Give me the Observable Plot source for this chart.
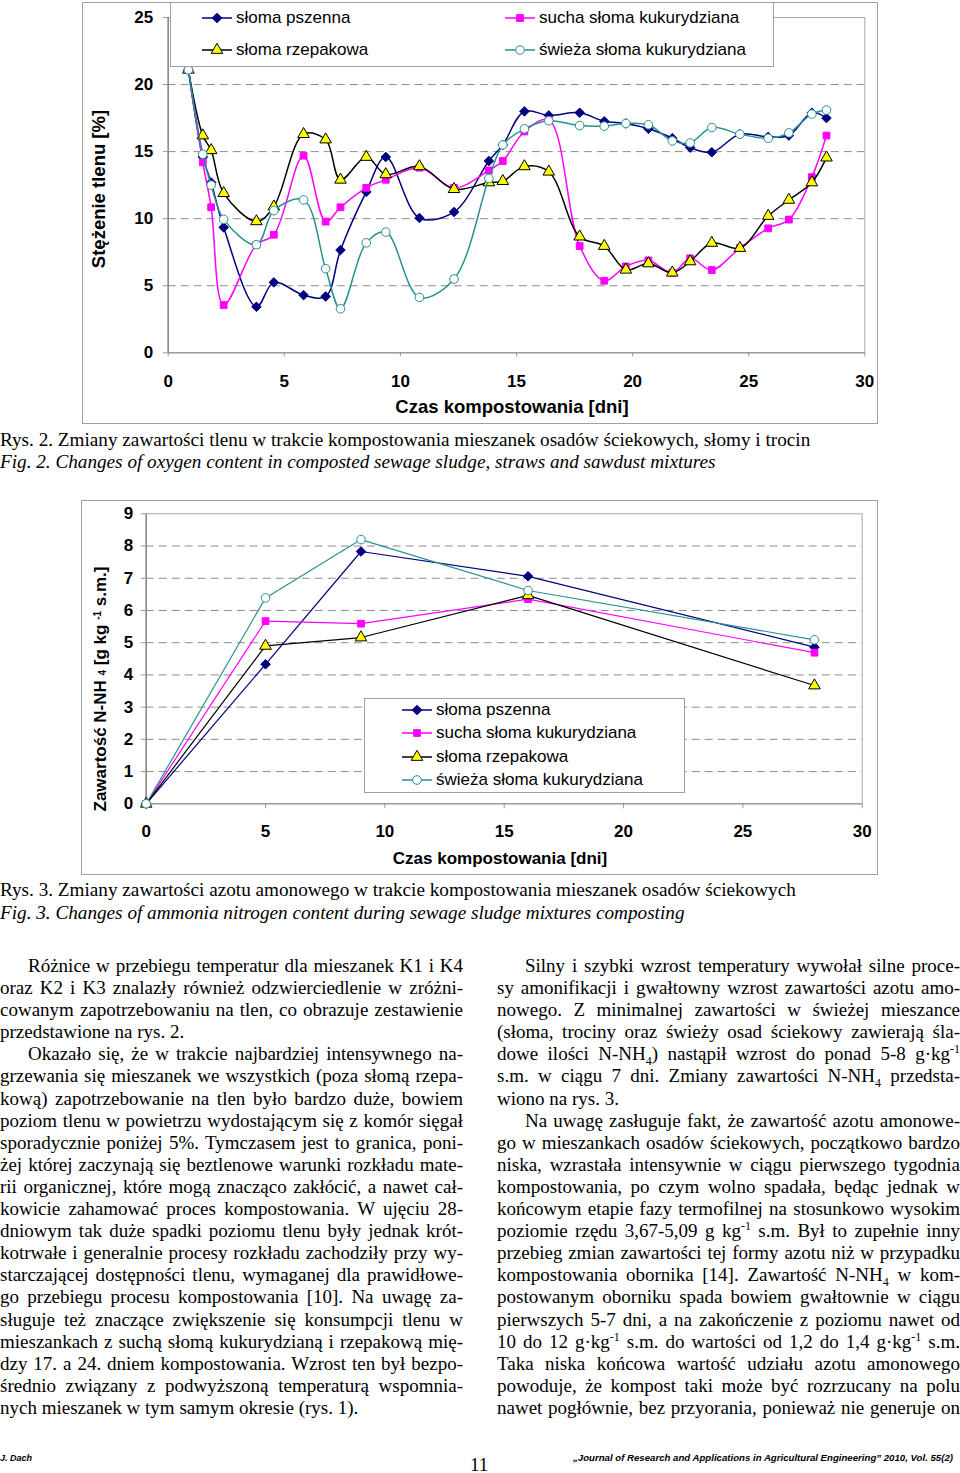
<!DOCTYPE html>
<html><head><meta charset="utf-8">
<script src="https://cdn.jsdelivr.net/npm/d3@7"></script>
<script src="https://cdn.jsdelivr.net/npm/@observablehq/plot@0.6"></script>
<style>
html,body{margin:0;padding:0;background:#fff;}
body{width:960px;height:1473px;position:relative;overflow:hidden;font-family:"Liberation Sans",Arial,sans-serif;color:#000;}
.abs{position:absolute;}
.frame{position:absolute;border:1px solid #a0a0a0;box-sizing:border-box;}
.ylab{position:absolute;transform:translate(-50%,-50%) rotate(-90deg);white-space:nowrap;font:bold 17px "Liberation Sans",Arial,sans-serif;}
.xlab{position:absolute;transform:translate(-50%,-50%);white-space:nowrap;font:bold 17px "Liberation Sans",Arial,sans-serif;}
.legend{position:absolute;border:1px solid #a0a0a0;background:#fff;box-sizing:border-box;}
.li{position:absolute;white-space:nowrap;font:17px "Liberation Sans",Arial,sans-serif;transform:translateY(-50%);display:flex;align-items:center;}
.li svg{margin-right:4px;}
.cap{position:absolute;left:0;white-space:nowrap;font:19.2px "Liberation Serif","Times New Roman",serif;transform:translateY(-50%);}
.col{position:absolute;width:463px;font:19px "Liberation Serif","Times New Roman",serif;}
.ln{height:22.1px;line-height:22.1px;white-space:nowrap;text-align:left;}
.ln.j{text-align:justify;text-align-last:justify;}
.ln.ind{padding-left:28px;}
sub,sup{font-size:12px;line-height:0;}
.foot{position:absolute;white-space:nowrap;font:bold italic 9px "Liberation Sans",Arial,sans-serif;transform-origin:left center;}
svg.plot{position:absolute;}
</style>
</head><body>
<div id="root"></div>
<script>
// ---------- DATA: Rys. 2 (oxygen, %) ----------
const dni1 = [0.87,1.49,1.85,2.39,3.8,4.55,5.83,6.78,7.42,8.53,9.37,10.82,12.31,13.81,14.41,15.34,16.39,17.72,18.78,19.71,20.68,21.71,22.48,23.41,24.62,25.84,26.73,27.72,28.35];
const tlenPszenna = [21.1,14.6,12.7,9.35,3.43,5.25,4.3,4.2,7.66,12.0,14.6,10.05,10.5,14.3,15.5,18.0,17.7,17.9,17.26,17.1,16.7,16.0,15.3,14.95,16.3,16.1,16.2,17.9,17.5];
const tlenSucha = [21.1,14.2,10.85,3.56,8.06,8.8,14.7,9.78,10.85,12.3,12.9,13.8,12.3,13.6,14.3,16.5,17.35,7.96,5.37,6.44,6.89,5.97,7.04,6.17,7.81,9.28,9.93,13.1,16.2];
const tlenRzepak = [21.1,16.2,15.1,11.9,9.8,10.9,16.3,15.9,12.9,14.6,13.3,13.9,12.2,12.7,12.8,13.9,13.5,8.66,7.96,6.19,6.66,5.97,6.81,8.19,7.81,10.2,11.4,12.7,14.55];
const tlenSwieza = [21.1,14.8,12.5,9.95,8.06,10.6,11.4,6.27,3.28,8.2,9.0,4.13,5.5,13.0,15.5,16.7,17.3,16.94,16.9,17.1,17.0,15.8,15.65,16.8,16.3,16.0,16.4,17.8,18.1];
const ticksX = [0,5,10,15,20,25,30];
const ticksY1 = [0,5,10,15,20,25];

// ---------- DATA: Rys. 3 (N-NH4, g/kg s.m.) ----------
const dni2 = [0,5,9,16,28];
const nPszenna = [0,4.33,7.83,7.06,4.86];
const nSucha = [0,5.67,5.59,6.35,4.69];
const nRzepak = [0,4.9,5.16,6.47,3.67];
const nSwieza = [0,6.39,8.2,6.62,5.09];
const ticksY2 = [0,1,2,3,4,5,6,7,8,9];

const names = ["słoma pszenna","sucha słoma kukurydziana","słoma rzepakowa","świeża słoma kukurydziana"];

// ---------- styles ----------
const sty = [
  {line:"#000080", symbol:"diamond2", fill:"#000080", stroke:"#000080", r:4.3},
  {line:"#ff00ff", symbol:"square", fill:"#ff00ff", stroke:"#ff00ff", r:3.8},
  {line:"#000000", symbol:"triangle", fill:"#ffff00", stroke:"#000000", r:4.3},
  {line:"#2a9090", symbol:"circle", fill:"#ffffff", stroke:"#2a9090", r:4.3}
];

function seriesMarks(xs, ys, s, curve, sw){
  const data = xs.map((d,i)=>({d, v: ys[i]}));
  return [
    Plot.line(data, {x:"d", y:"v", stroke:s.line, strokeWidth:sw, curve}),
    Plot.dot(data, {x:"d", y:"v", symbol:s.symbol, r:s.r, fill:s.fill, stroke:s.stroke, strokeWidth:1})
  ];
}

const root = document.getElementById("root");
const baseStyle = {fontFamily:"'Liberation Sans', Arial, sans-serif", fontSize:"17px", fontWeight:"bold", color:"#000", background:"transparent", overflow:"visible"};

function addDiv(cls, css, html){
  const d = document.createElement("div"); d.className = cls;
  Object.assign(d.style, css); if (html!=null) d.innerHTML = html;
  root.appendChild(d); return d;
}
// ---------- frames ----------
addDiv("frame", {left:"82px", top:"2px", width:"796px", height:"422px"});
addDiv("frame", {left:"81px", top:"500px", width:"797px", height:"375px"});

// ---------- Chart 1 ----------
const s1 = [tlenPszenna, tlenSucha, tlenRzepak, tlenSwieza];
const chart1 = Plot.plot({
  width:960, height:430,
  marginLeft:167.7, marginRight:95.7, marginTop:17, marginBottom:77.7,
  x:{domain:[0,30]}, y:{domain:[0,25]},
  style: baseStyle,
  marks:[
    Plot.gridY([5,10,15,20], {stroke:"#8c8c8c", strokeOpacity:1, strokeDasharray:"8,5"}),
    Plot.frame({stroke:"#a8a8a8"}),
    Plot.axisX(ticksX, {tickSize:4, tickPadding:18, label:null, stroke:"#999"}),
    Plot.axisY(ticksY1, {tickSize:5, tickPadding:10, label:null, stroke:"#999"}),
    Plot.ruleY([0], {stroke:"#8a8a8a"}),
    Plot.ruleX([0], {stroke:"#8a8a8a", strokeWidth:1.5}),
    ...[0,1,2,3].flatMap(i => seriesMarks(dni1, s1[i], sty[i], "catmull-rom", 1.5))
  ]
});
chart1.classList.add("plot");
chart1.style.left = "0px"; chart1.style.top = "0px";
root.appendChild(chart1);

// ---------- Chart 2 ----------
const s2 = [nPszenna, nSucha, nRzepak, nSwieza];
const chart2 = Plot.plot({
  width:960, height:390,
  marginLeft:145.7, marginRight:98.3, marginTop:23.3, marginBottom:76.7,
  x:{domain:[0,30]}, y:{domain:[0,9]},
  style: baseStyle,
  marks:[
    Plot.gridY([1,2,3,4,5,6,7,8], {stroke:"#8c8c8c", strokeOpacity:1, strokeDasharray:"8,5"}),
    Plot.frame({stroke:"#a8a8a8"}),
    Plot.axisX(ticksX, {tickSize:5, tickPadding:16, label:null, stroke:"#999"}),
    Plot.axisY(ticksY2, {tickSize:5, tickPadding:8, label:null, stroke:"#999"}),
    Plot.ruleY([0], {stroke:"#8a8a8a"}),
    Plot.ruleX([0], {stroke:"#8a8a8a", strokeWidth:1.5}),
    ...[0,1,2,3].flatMap(i => seriesMarks(dni2, s2[i], sty[i], "linear", 1.2))
  ]
});
chart2.classList.add("plot");
chart2.style.left = "0px"; chart2.style.top = "490px";
root.appendChild(chart2);

// ---------- legends ----------
function swatch(i){
  const s = sty[i];
  const sym = d3.symbol().type({diamond2:d3.symbolDiamond2, square:d3.symbolSquare, triangle:d3.symbolTriangle, circle:d3.symbolCircle}[s.symbol]).size(Math.PI*s.r*s.r)();
  return `<svg width="30" height="14" viewBox="-15 -7 30 14"><line x1="-15" x2="15" y1="0" y2="0" stroke="${s.line}" stroke-width="1.5"/><path d="${sym}" fill="${s.fill}" stroke="${s.stroke}" stroke-width="1"/></svg>`;
}
addDiv("legend", {left:"170px", top:"2px", width:"604px", height:"65px"});
const leg1 = [[0,202,18],[1,505,18],[2,202,50],[3,505,50]];
leg1.forEach(([i,x,y]) => addDiv("li", {left:x+"px", top:y+"px"}, swatch(i) + names[i]));

addDiv("legend", {left:"364px", top:"698px", width:"321px", height:"95px"});
[0,1,2,3].forEach(i => addDiv("li", {left:"402px", top:(710 + i*23.3)+"px"}, swatch(i) + names[i]));

// ---------- axis titles ----------
addDiv("ylab", {left:"99px", top:"189px", fontSize:"18.5px"}, "Stężenie tlenu [%]");
addDiv("xlab", {left:"512px", top:"407px", fontSize:"18.5px"}, "Czas kompostowania [dni]");
addDiv("ylab", {left:"101px", top:"689px"}, "Zawartość N-NH <span style='font-size:10px'>4</span> [g kg <span style='font-size:10px;vertical-align:5px'>-1</span> s.m.]");
addDiv("xlab", {left:"500px", top:"859px"}, "Czas kompostowania [dni]");

// ---------- captions ----------
addDiv("cap", {top:"440px"}, "Rys. 2. Zmiany zawartości tlenu w trakcie kompostowania mieszanek osadów ściekowych, słomy i trocin");
addDiv("cap", {top:"462px", fontStyle:"italic"}, "Fig. 2. Changes of oxygen content in composted sewage sludge, straws and sawdust mixtures");
addDiv("cap", {top:"890px"}, "Rys. 3. Zmiany zawartości azotu amonowego w trakcie kompostowania mieszanek osadów ściekowych");
addDiv("cap", {top:"913px", fontStyle:"italic"}, "Fig. 3. Changes of ammonia nitrogen content during sewage sludge mixtures composting");

// ---------- body text ----------
const leftCol = [
  ["Różnice w przebiegu temperatur dla mieszanek K1 i K4",
   "oraz K2 i K3 znalazły również odzwierciedlenie w zróżni-",
   "cowanym zapotrzebowaniu na tlen, co obrazuje zestawienie",
   "przedstawione na rys. 2."],
  ["Okazało się, że w trakcie najbardziej intensywnego na-",
   "grzewania się mieszanek we wszystkich (poza słomą rzepa-",
   "kową) zapotrzebowanie na tlen było bardzo duże, bowiem",
   "poziom tlenu w powietrzu wydostającym się z komór sięgał",
   "sporadycznie poniżej 5%. Tymczasem jest to granica, poni-",
   "żej której zaczynają się beztlenowe warunki rozkładu mate-",
   "rii organicznej, które mogą znacząco zakłócić, a nawet cał-",
   "kowicie zahamować proces kompostowania. W ujęciu 28-",
   "dniowym tak duże spadki poziomu tlenu były jednak krót-",
   "kotrwałe i generalnie procesy rozkładu zachodziły przy wy-",
   "starczającej dostępności tlenu, wymaganej dla prawidłowe-",
   "go przebiegu procesu kompostowania [10]. Na uwagę za-",
   "sługuje też znaczące zwiększenie się konsumpcji tlenu w",
   "mieszankach z suchą słomą kukurydzianą i rzepakową mię-",
   "dzy 17. a 24. dniem kompostowania. Wzrost ten był bezpo-",
   "średnio związany z podwyższoną temperaturą wspomnia-",
   "nych mieszanek w tym samym okresie (rys. 1)."]
];
const rightCol = [
  ["Silny i szybki wzrost temperatury wywołał silne proce-",
   "sy amonifikacji i gwałtowny wzrost zawartości azotu amo-",
   "nowego. Z minimalnej zawartości w świeżej mieszance",
   "(słoma, trociny oraz świeży osad ściekowy zawierają śla-",
   "dowe ilości N-NH<sub>4</sub>) nastąpił wzrost do ponad 5-8 g·kg<sup>-1</sup>",
   "s.m. w ciągu 7 dni. Zmiany zawartości N-NH<sub>4</sub> przedsta-",
   "wiono na rys. 3."],
  ["Na uwagę zasługuje fakt, że zawartość azotu amonowe-",
   "go w mieszankach osadów ściekowych, początkowo bardzo",
   "niska, wzrastała intensywnie w ciągu pierwszego tygodnia",
   "kompostowania, po czym wolno spadała, będąc jednak w",
   "końcowym etapie fazy termofilnej na stosunkowo wysokim",
   "poziomie rzędu 3,67-5,09 g kg<sup>-1</sup> s.m. Był to zupełnie inny",
   "przebieg zmian zawartości tej formy azotu niż w przypadku",
   "kompostowania obornika [14]. Zawartość N-NH<sub>4</sub> w kom-",
   "postowanym oborniku spada bowiem gwałtownie w ciągu",
   "pierwszych 5-7 dni, a na zakończenie z poziomu nawet od",
   "10 do 12 g·kg<sup>-1</sup> s.m. do wartości od 1,2 do 1,4 g·kg<sup>-1</sup> s.m.",
   "Taka niska końcowa wartość udziału azotu amonowego",
   "powoduje, że kompost taki może być rozrzucany na polu",
   "nawet pogłównie, bez przyorania, ponieważ nie generuje on"]
];
function buildCol(paras, left, continues){
  const col = addDiv("col", {left:left+"px", top:"955px"});
  paras.forEach((p, pi) => {
    p.forEach((t, li) => {
      const d = document.createElement("div");
      d.className = "ln" + (li === 0 ? " ind" : "");
      const sp = document.createElement("span");
      sp.innerHTML = t; d.appendChild(sp); col.appendChild(d);
      const avail = 463 - (li === 0 ? 28 : 0);
      const wNat = sp.getBoundingClientRect().width;
      if (wNat > avail - 2) {
        const n = sp.textContent.length;
        sp.style.letterSpacing = (-(wNat - avail + 3) / n) + "px";
      }
      const isLast = li === p.length-1 && !(continues && pi === paras.length-1);
      if (!isLast) d.classList.add("j");
    });
  });
}
buildCol(leftCol, 0, false);
buildCol(rightCol, 497, true);

// ---------- footer ----------
addDiv("foot", {left:"0px", top:"1453px"}, "J. Dach");
const jr = addDiv("foot", {left:"573px", top:"1453px"}, "„Journal of Research and Applications in Agricultural Engineering” 2010, Vol. 55(2)");
const w = jr.getBoundingClientRect().width;
jr.style.transform = `scaleX(${380 / w})`;
addDiv("abs", {left:"470px", top:"1454px", font:"19px 'Liberation Serif', serif"}, "11");
</script>
</body></html>
